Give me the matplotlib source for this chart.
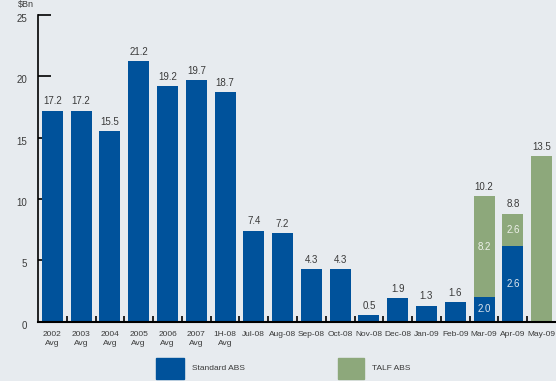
import numpy as np
import matplotlib
matplotlib.use("Agg")
import matplotlib.pyplot as plt
from matplotlib.patches import Rectangle
from matplotlib.transforms import ScaledTranslation

categories = ["2002\nAvg", "2003\nAvg", "2004\nAvg", "2005\nAvg", "2006\nAvg", "2007\nAvg",
              "1H-08\nAvg", "Jul-08", "Aug-08", "Sep-08", "Oct-08", "Nov-08", "Dec-08",
              "Jan-09", "Feb-09", "Mar-09", "Apr-09", "May-09"]
standard_abs = [17.2, 17.2, 15.5, 21.2, 19.2, 19.7, 18.7, 7.4, 7.2, 4.3, 4.3, 0.5, 1.9,
                1.3, 1.6, 2.0, 6.2, 0.0]
talf_abs = [0, 0, 0, 0, 0, 0, 0, 0, 0, 0, 0, 0, 0, 0, 0, 8.2, 2.6, 13.5]
inner_labels = {15: ("2.0", "8.2"), 16: ("2.6", "2.6")}

BLUE = "#00529b"
GREEN = "#8da87b"
BG = "#e7ebef"
TXT = "#3a3a3a"

plt.rcParams["font.family"] = ["Liberation Sans", "DejaVu Sans"]

fig = plt.figure(figsize=(5.56, 3.81), dpi=100, facecolor=BG)
ax = fig.add_axes([0.0683, 0.156, 0.9317, 0.805])
ax.set_facecolor(BG)

x = np.arange(len(categories))
std = np.array(standard_abs)
talf = np.array(talf_abs)
ax.bar(x, std, width=0.73, color=BLUE, zorder=2)
ax.bar(x, talf, width=0.73, bottom=std, color=GREEN, zorder=2)

for i, (s, t) in enumerate(zip(std, talf)):
    total = s + t
    ax.text(i, total + 0.35, f"{total:.1f}", ha="center", va="bottom",
            fontsize=7, color=TXT)
    if i in inner_labels:
        lo, hi = inner_labels[i]
        ax.text(i, s / 2, lo, ha="center", va="center", fontsize=7, color="#dfe6ee")
        ax.text(i, s + t / 2, hi, ha="center", va="center", fontsize=7, color="#eef1ea")

ax.set_xlim(-0.5, 17.5)
ax.set_ylim(0, 25)
ax.set_yticks([0, 5, 10, 15, 20, 25])
ax.tick_params(axis="y", direction="in", length=9.5, width=1.2, labelsize=7,
               labelcolor=TXT, pad=8)
shift = ScaledTranslation(0, -3 / 100, fig.dpi_scale_trans)
for lab in ax.get_yticklabels():
    lab.set_transform(lab.get_transform() + shift)
ax.set_xticks(x)
ax.set_xticklabels(categories, fontsize=6, color=TXT, linespacing=1.35)
ax.tick_params(axis="x", length=0, pad=7)
ax.set_xticks(x[:-1] + 0.5, minor=True)
ax.tick_params(axis="x", which="minor", direction="in", length=4, width=1.2)

for side in ["top", "right"]:
    ax.spines[side].set_visible(False)
ax.spines["left"].set_linewidth(1.2)
ax.spines["bottom"].set_linewidth(1.5)

fig.text(0.032, 1 - 5 / 381, "$Bn", fontsize=6.5, color=TXT, ha="left", va="center")

# legend
fig.add_artist(Rectangle((156 / 556, 1 - 379 / 381), 28 / 556, 21 / 381,
                         transform=fig.transFigure, color=BLUE))
fig.text(192 / 556, 1 - 369 / 381, "Standard ABS", fontsize=6, color=TXT, va="center")
fig.add_artist(Rectangle((338 / 556, 1 - 379 / 381), 26 / 556, 21 / 381,
                         transform=fig.transFigure, color=GREEN))
fig.text(372 / 556, 1 - 369 / 381, "TALF ABS", fontsize=6, color=TXT, va="center")

fig.savefig("out.png", dpi=100, facecolor=BG)
